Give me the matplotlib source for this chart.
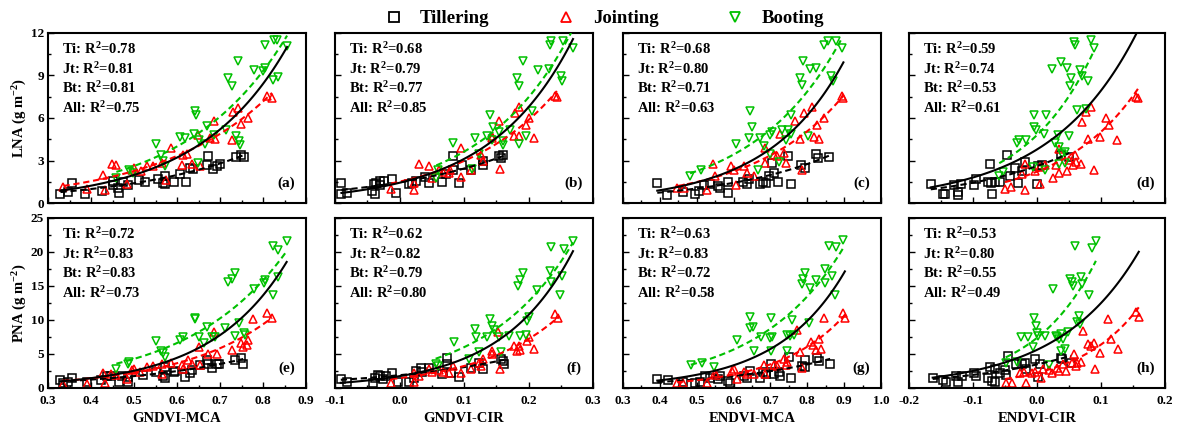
import numpy as np
import matplotlib

matplotlib.use("Agg")
import matplotlib.pyplot as plt
from matplotlib.lines import Line2D
from matplotlib.ticker import AutoMinorLocator

plt.rcParams["font.family"] = ["Liberation Serif", "DejaVu Serif"]
plt.rcParams["font.weight"] = "bold"
plt.rcParams["axes.labelweight"] = "bold"
plt.rcParams["axes.unicode_minus"] = False
plt.rcParams["mathtext.fontset"] = "custom"
plt.rcParams["mathtext.rm"] = "Liberation Serif:bold"
plt.rcParams["mathtext.it"] = "Liberation Serif:bold:italic"
plt.rcParams["mathtext.bf"] = "Liberation Serif:bold"

# ---- data: (vegetation index, nitrogen) pairs per panel/stage ----
# (a) LNA vs GNDVI-MCA
a_ti = [(0.329, 0.64), (0.346, 0.75), (0.356, 1.41), (0.387, 0.66), (0.425, 0.82), (0.450, 1.53),
        (0.452, 1.29), (0.462, 1.06), (0.464, 0.71), (0.475, 1.46), (0.485, 1.29), (0.512, 1.65),
        (0.525, 1.46), (0.556, 1.69), (0.567, 1.41), (0.571, 1.88), (0.573, 1.34), (0.592, 1.46),
        (0.608, 2.07), (0.622, 1.46), (0.631, 2.47), (0.638, 2.40), (0.669, 2.68), (0.673, 3.34),
        (0.683, 2.40), (0.692, 2.59), (0.700, 2.75), (0.738, 3.25), (0.748, 3.41), (0.756, 3.25)]
a_jt = [(0.336, 1.13), (0.390, 0.99), (0.428, 2.00), (0.433, 0.89), (0.448, 2.78), (0.458, 2.66),
        (0.483, 1.34), (0.495, 2.31), (0.500, 2.47), (0.517, 2.24), (0.531, 2.59), (0.545, 2.59),
        (0.565, 2.82), (0.575, 1.65), (0.586, 3.88), (0.612, 2.71), (0.614, 3.41), (0.623, 3.48),
        (0.635, 2.78), (0.648, 4.82), (0.654, 2.59), (0.677, 4.59), (0.687, 5.76), (0.688, 4.52),
        (0.727, 4.47), (0.731, 6.40), (0.742, 6.71), (0.748, 5.60), (0.764, 6.00), (0.810, 7.53),
        (0.821, 7.41)]
a_bt = [(0.459, 1.76), (0.488, 2.31), (0.498, 2.12), (0.552, 4.19), (0.563, 3.41), (0.567, 2.94),
        (0.571, 2.59), (0.608, 4.66), (0.619, 4.59), (0.640, 4.89), (0.642, 6.47), (0.644, 6.24),
        (0.648, 2.82), (0.650, 4.47), (0.664, 4.19), (0.669, 5.41), (0.685, 4.82), (0.715, 5.18),
        (0.719, 8.82), (0.729, 8.24), (0.738, 4.71), (0.741, 10.0), (0.744, 4.35), (0.746, 4.12),
        (0.779, 9.41), (0.800, 9.29), (0.804, 9.53), (0.805, 11.18), (0.823, 8.71), (0.825, 11.53),
        (0.833, 11.53), (0.836, 8.89), (0.856, 11.06)]

# (b) LNA vs GNDVI-CIR
b_ti = [(-0.090, 1.41), (-0.090, 0.64), (-0.082, 0.71), (-0.043, 0.82), (-0.039, 1.36), (-0.038, 0.64),
        (-0.036, 1.41), (-0.031, 1.29), (-0.030, 1.53), (-0.024, 1.53), (-0.012, 1.72), (-0.006, 0.71),
        (0.014, 1.36), (0.019, 1.41), (0.025, 1.53), (0.039, 1.84), (0.045, 1.41), (0.066, 1.46),
        (0.072, 2.07), (0.083, 3.34), (0.083, 2.35), (0.092, 1.41), (0.097, 2.71), (0.111, 2.35),
        (0.129, 2.71), (0.130, 2.94), (0.155, 3.29), (0.157, 3.18), (0.161, 3.41)]
b_jt = [(-0.013, 0.99), (0.022, 1.41), (0.022, 0.94), (0.030, 2.78), (0.046, 2.64), (0.051, 1.76),
        (0.061, 2.35), (0.068, 2.16), (0.077, 2.12), (0.078, 2.31), (0.096, 3.88), (0.096, 1.81),
        (0.111, 2.35), (0.127, 3.41), (0.130, 2.94), (0.143, 4.71), (0.144, 4.59), (0.155, 5.76),
        (0.156, 2.40), (0.177, 4.71), (0.179, 6.35), (0.186, 6.78), (0.186, 4.71), (0.196, 5.53),
        (0.201, 6.00), (0.208, 4.59), (0.241, 7.53), (0.244, 7.46)]
b_bt = [(0.057, 1.76), (0.059, 2.31), (0.083, 4.24), (0.113, 2.40), (0.117, 4.59), (0.123, 3.48),
        (0.136, 4.75), (0.140, 6.24), (0.143, 4.47), (0.145, 5.36), (0.155, 4.99), (0.160, 4.35),
        (0.161, 4.12), (0.171, 5.18), (0.182, 8.82), (0.186, 8.24), (0.186, 4.19), (0.191, 10.0),
        (0.196, 4.71), (0.205, 6.47), (0.214, 9.41), (0.232, 9.46), (0.233, 11.18), (0.235, 11.41),
        (0.250, 8.94), (0.252, 8.59), (0.254, 11.41), (0.269, 10.94)]

# (c) LNA vs ENDVI-MCA
c_ti = [(0.393, 1.41), (0.420, 0.59), (0.462, 0.75), (0.494, 0.64), (0.506, 0.82), (0.520, 1.29),
        (0.536, 1.36), (0.559, 1.22), (0.562, 1.06), (0.584, 0.71), (0.586, 1.46), (0.625, 1.46),
        (0.636, 1.34), (0.643, 1.69), (0.671, 1.36), (0.680, 1.46), (0.689, 1.41), (0.695, 1.93),
        (0.705, 2.82), (0.711, 2.12), (0.720, 1.46), (0.747, 3.34), (0.755, 1.36), (0.784, 2.71),
        (0.793, 2.47), (0.825, 3.48), (0.829, 3.18), (0.859, 3.25)]
c_jt = [(0.447, 1.06), (0.465, 1.06), (0.527, 0.89), (0.545, 2.75), (0.550, 1.88), (0.593, 2.64),
        (0.600, 2.31), (0.607, 1.29), (0.629, 2.64), (0.636, 2.12), (0.656, 1.88), (0.684, 2.82),
        (0.686, 3.88), (0.709, 3.41), (0.718, 3.34), (0.727, 4.87), (0.738, 3.53), (0.741, 2.82),
        (0.768, 5.76), (0.780, 4.52), (0.786, 2.35), (0.791, 6.35), (0.814, 6.78), (0.818, 4.66),
        (0.827, 5.53), (0.832, 4.52), (0.844, 6.00), (0.895, 7.53), (0.898, 7.41)]
c_bt = [(0.482, 1.88), (0.511, 2.31), (0.607, 4.19), (0.641, 4.59), (0.644, 6.47), (0.650, 5.36),
        (0.665, 2.35), (0.671, 4.59), (0.682, 4.00), (0.698, 3.48), (0.700, 4.82), (0.705, 4.99),
        (0.723, 2.87), (0.732, 5.18), (0.741, 4.47), (0.747, 5.18), (0.756, 4.89), (0.756, 6.24),
        (0.780, 8.82), (0.786, 8.35), (0.789, 10.0), (0.802, 4.71), (0.807, 9.46), (0.823, 9.53),
        (0.844, 11.18), (0.855, 11.41), (0.864, 8.94), (0.871, 8.64), (0.877, 11.41), (0.895, 10.94)]

# (d) LNA vs ENDVI-CIR
d_ti = [(-0.166, 1.37), (-0.147, 0.66), (-0.144, 0.61), (-0.129, 1.30), (-0.124, 0.78), (-0.123, 0.54),
        (-0.119, 1.37), (-0.098, 1.25), (-0.096, 1.72), (-0.076, 1.49), (-0.074, 2.78), (-0.072, 1.42),
        (-0.071, 0.66), (-0.066, 1.49), (-0.058, 1.49), (-0.047, 3.37), (-0.042, 1.89), (-0.035, 2.48),
        (-0.029, 1.42), (-0.023, 2.24), (-0.019, 2.90), (0.000, 1.32), (0.002, 2.59), (0.008, 2.67),
        (0.038, 3.42), (0.050, 3.25)]
d_jt = [(-0.050, 1.01), (-0.041, 1.13), (-0.018, 0.90), (-0.019, 2.74), (-0.024, 2.03), (-0.003, 2.26),
        (0.005, 1.37), (0.005, 2.55), (0.013, 2.67), (0.025, 1.79), (0.029, 2.71), (0.034, 2.12),
        (0.034, 3.84), (0.047, 2.26), (0.050, 3.07), (0.056, 2.67), (0.059, 3.37), (0.061, 2.90),
        (0.068, 2.74), (0.071, 5.73), (0.076, 6.44), (0.079, 4.55), (0.084, 6.75), (0.089, 2.36),
        (0.098, 4.67), (0.108, 5.97), (0.113, 5.50), (0.125, 4.48), (0.154, 7.50), (0.158, 7.38)]
d_bt = [(-0.059, 1.89), (-0.053, 2.19), (-0.032, 4.20), (-0.028, 4.43), (-0.017, 4.48), (-0.005, 6.20),
        (-0.004, 5.38), (-0.002, 5.14), (-0.007, 2.55), (0.011, 4.86), (0.014, 6.20), (0.013, 2.31),
        (0.028, 4.20), (0.033, 4.79), (0.035, 3.96), (0.039, 3.49), (0.044, 3.61), (0.034, 2.74),
        (0.050, 4.72), (0.044, 2.83), (0.023, 9.43), (0.037, 9.98), (0.047, 9.50), (0.053, 8.80),
        (0.052, 8.25), (0.067, 9.39), (0.070, 8.96), (0.079, 8.63), (0.058, 11.39), (0.059, 11.16),
        (0.084, 11.51), (0.089, 10.92), (0.063, 6.56), (0.076, 6.67)]

# (e) PNA vs GNDVI-MCA
e_ti = [(0.328, 1.23), (0.336, 0.74), (0.346, 0.89), (0.356, 1.53), (0.390, 0.89), (0.423, 1.13),
        (0.438, 1.72), (0.446, 1.72), (0.464, 0.89), (0.473, 1.72), (0.485, 0.89), (0.487, 1.62),
        (0.521, 1.87), (0.552, 2.36), (0.568, 1.72), (0.572, 1.53), (0.573, 3.10), (0.592, 2.36),
        (0.596, 2.51), (0.619, 1.62), (0.631, 2.21), (0.635, 2.61), (0.654, 3.35), (0.669, 4.18),
        (0.673, 3.59), (0.682, 3.00), (0.692, 3.59), (0.698, 3.49), (0.736, 4.08), (0.748, 4.43),
        (0.754, 3.59)]
e_jt = [(0.336, 0.54), (0.390, 0.64), (0.428, 2.21), (0.433, 0.74), (0.446, 2.12), (0.458, 1.87),
        (0.483, 1.38), (0.495, 2.61), (0.500, 2.85), (0.515, 2.36), (0.531, 3.10), (0.544, 3.20),
        (0.565, 3.59), (0.565, 2.12), (0.585, 3.69), (0.612, 3.35), (0.615, 2.85), (0.625, 4.18),
        (0.635, 3.59), (0.650, 6.05), (0.654, 3.35), (0.673, 5.07), (0.687, 8.27), (0.692, 5.07),
        (0.727, 5.56), (0.750, 6.55), (0.754, 6.05), (0.762, 6.30), (0.765, 7.04), (0.777, 10.09),
        (0.810, 10.97), (0.821, 10.24)]
e_bt = [(0.459, 2.85), (0.487, 3.59), (0.488, 3.84), (0.552, 6.94), (0.563, 5.46), (0.567, 5.17),
        (0.572, 4.58), (0.608, 7.04), (0.615, 7.43), (0.641, 10.24), (0.642, 10.09), (0.650, 7.53),
        (0.662, 6.64), (0.669, 9.01), (0.682, 7.43), (0.688, 7.43), (0.712, 8.76), (0.718, 15.65),
        (0.727, 15.99), (0.736, 16.88), (0.736, 7.63), (0.744, 9.60), (0.756, 8.02), (0.758, 7.78),
        (0.779, 14.52), (0.802, 15.50), (0.805, 15.90), (0.823, 20.82), (0.823, 13.68), (0.835, 20.32),
        (0.836, 16.39), (0.855, 21.56)]

# (f) PNA vs GNDVI-CIR
f_ti = [(-0.091, 1.34), (-0.082, 0.85), (-0.041, 0.75), (-0.038, 1.49), (-0.034, 1.84), (-0.030, 1.74),
        (-0.025, 1.34), (-0.021, 1.74), (-0.011, 2.14), (-0.003, 0.85), (0.015, 0.85), (0.022, 1.49),
        (0.026, 2.49), (0.034, 2.99), (0.035, 2.34), (0.046, 2.99), (0.066, 1.99), (0.074, 3.48),
        (0.074, 4.48), (0.080, 2.24), (0.092, 1.64), (0.111, 2.99), (0.129, 2.84), (0.124, 3.73),
        (0.157, 4.23), (0.161, 3.98), (0.162, 3.48)]
f_jt = [(-0.013, 0.75), (0.022, 2.24), (0.022, 0.85), (0.030, 1.74), (0.046, 2.74), (0.051, 2.34),
        (0.061, 2.64), (0.068, 2.34), (0.077, 2.24), (0.083, 3.23), (0.096, 2.14), (0.111, 2.74),
        (0.123, 3.73), (0.127, 3.23), (0.130, 4.23), (0.143, 4.98), (0.144, 5.47), (0.153, 8.21),
        (0.156, 2.74), (0.177, 6.22), (0.182, 5.47), (0.186, 6.22), (0.187, 5.62), (0.197, 6.97),
        (0.201, 7.46), (0.208, 5.72), (0.241, 10.95), (0.246, 10.30)]
f_bt = [(0.056, 3.48), (0.059, 3.23), (0.084, 6.82), (0.108, 4.33), (0.117, 8.61), (0.119, 7.46),
        (0.123, 5.32), (0.135, 7.46), (0.140, 10.10), (0.143, 9.10), (0.146, 8.46), (0.155, 7.46),
        (0.158, 5.22), (0.169, 7.71), (0.187, 7.61), (0.183, 15.07), (0.187, 15.92), (0.191, 16.92),
        (0.196, 7.81), (0.213, 14.43), (0.234, 17.26), (0.235, 20.75), (0.235, 15.57), (0.249, 13.68),
        (0.252, 16.42), (0.255, 20.40), (0.269, 21.64), (0.197, 9.80), (0.200, 10.45)]

# (g) PNA vs ENDVI-MCA
g_ti = [(0.393, 1.39), (0.423, 1.19), (0.464, 0.90), (0.495, 0.80), (0.509, 0.90), (0.523, 1.79),
        (0.536, 1.54), (0.559, 1.29), (0.562, 1.79), (0.586, 1.04), (0.591, 0.80), (0.627, 1.79),
        (0.636, 1.54), (0.645, 2.54), (0.673, 1.54), (0.680, 2.39), (0.689, 2.04), (0.702, 3.53),
        (0.711, 2.04), (0.723, 2.39), (0.725, 1.79), (0.750, 4.53), (0.756, 1.54), (0.786, 3.28),
        (0.793, 4.18), (0.795, 3.03), (0.827, 4.38), (0.832, 4.03), (0.862, 3.53)]
g_jt = [(0.447, 0.80), (0.464, 0.80), (0.529, 0.80), (0.550, 2.19), (0.553, 1.89), (0.595, 2.54),
        (0.602, 2.79), (0.609, 1.29), (0.629, 2.29), (0.636, 2.04), (0.656, 2.04), (0.682, 3.38),
        (0.686, 2.04), (0.711, 3.38), (0.718, 3.28), (0.736, 4.28), (0.741, 3.38), (0.745, 3.78),
        (0.771, 8.51), (0.780, 5.27), (0.786, 2.89), (0.809, 6.77), (0.816, 6.27), (0.823, 5.52),
        (0.832, 7.26), (0.836, 5.77), (0.844, 10.25), (0.898, 11.00), (0.902, 10.25)]
g_bt = [(0.484, 3.38), (0.514, 3.68), (0.547, 3.03), (0.609, 7.01), (0.644, 8.76), (0.644, 10.50),
        (0.653, 9.00), (0.656, 5.37), (0.675, 7.51), (0.700, 7.36), (0.702, 5.37), (0.705, 7.51),
        (0.702, 10.25), (0.744, 7.76), (0.745, 5.37), (0.753, 7.66), (0.759, 10.00), (0.765, 7.76),
        (0.786, 15.22), (0.789, 15.97), (0.793, 16.97), (0.807, 14.73), (0.805, 9.50), (0.825, 15.82),
        (0.847, 17.46), (0.847, 15.47), (0.859, 20.95), (0.868, 16.47), (0.877, 20.70), (0.875, 13.73),
        (0.898, 21.79)]

# (h) PNA vs ENDVI-CIR
h_ti = [(-0.163, 1.49), (-0.147, 1.24), (-0.142, 0.84), (-0.126, 1.73), (-0.123, 0.84), (-0.117, 1.83),
        (-0.098, 2.13), (-0.095, 1.83), (-0.076, 1.49), (-0.074, 3.12), (-0.070, 0.99), (-0.066, 0.84),
        (-0.065, 2.72), (-0.058, 2.23), (-0.050, 2.62), (-0.049, 1.98), (-0.045, 4.70), (-0.033, 3.47),
        (-0.024, 3.47), (-0.018, 3.61), (-0.017, 2.72), (-0.003, 4.21), (0.002, 1.63), (0.005, 3.47),
        (0.038, 4.46), (0.039, 4.21), (0.053, 3.61)]
h_jt = [(-0.049, 0.74), (-0.039, 0.74), (-0.026, 2.23), (-0.021, 2.33), (-0.017, 0.74), (-0.008, 2.13),
        (-0.003, 2.33), (0.007, 1.49), (0.009, 2.72), (0.019, 2.62), (0.024, 2.23), (0.032, 2.97),
        (0.034, 2.48), (0.041, 3.47), (0.045, 2.48), (0.054, 3.71), (0.058, 4.95), (0.061, 3.22),
        (0.063, 3.71), (0.068, 3.81), (0.072, 8.42), (0.079, 6.44), (0.084, 6.19), (0.089, 6.58),
        (0.091, 2.82), (0.098, 5.20), (0.111, 10.15), (0.116, 7.18), (0.126, 5.69), (0.155, 11.14),
        (0.159, 10.40)]
h_bt = [(-0.049, 3.71), (-0.032, 3.81), (-0.025, 7.57), (-0.014, 7.57), (-0.007, 6.09), (-0.004, 10.25),
        (-0.002, 9.16), (0.000, 8.07), (0.002, 7.67), (0.013, 7.67), (0.018, 3.32), (0.025, 14.60),
        (0.029, 7.67), (0.032, 7.57), (0.035, 7.18), (0.038, 7.92), (0.037, 5.45), (0.041, 7.18),
        (0.044, 5.69), (0.049, 8.17), (0.052, 16.09), (0.054, 15.59), (0.056, 15.00), (0.059, 20.94),
        (0.063, 9.75), (0.067, 9.41), (0.068, 16.34), (0.071, 15.35), (0.081, 13.71), (0.086, 20.54),
        (0.092, 21.63), (0.065, 10.54)]

# R2 values printed in each panel: Ti, Jt, Bt, All
r2_top = [["0.78", "0.81", "0.81", "0.75"], ["0.68", "0.79", "0.77", "0.85"],
          ["0.68", "0.80", "0.71", "0.63"], ["0.59", "0.74", "0.53", "0.61"]]
r2_bottom = [["0.72", "0.83", "0.83", "0.73"], ["0.62", "0.82", "0.79", "0.80"],
             ["0.63", "0.83", "0.72", "0.58"], ["0.53", "0.80", "0.55", "0.49"]]

vi_names = ["GNDVI-MCA", "GNDVI-CIR", "ENDVI-MCA", "ENDVI-CIR"]
x_ticks = [[0.3, 0.4, 0.5, 0.6, 0.7, 0.8, 0.9],
           [-0.1, 0.0, 0.1, 0.2, 0.3],
           [0.3, 0.4, 0.5, 0.6, 0.7, 0.8, 0.9, 1.0],
           [-0.2, -0.1, 0.0, 0.1, 0.2]]
lna_ticks = [0, 3, 6, 9, 12]
pna_ticks = [0, 5, 10, 15, 20, 25]
stage_labels = ["Tillering", "Jointing", "Booting"]
stage_short = ["Ti", "Jt", "Bt"]

top_sets = [(a_ti, a_jt, a_bt), (b_ti, b_jt, b_bt), (c_ti, c_jt, c_bt), (d_ti, d_jt, d_bt)]
bottom_sets = [(e_ti, e_jt, e_bt), (f_ti, f_jt, f_bt), (g_ti, g_jt, g_bt), (h_ti, h_jt, h_bt)]

COLORS = ["black", "#ff0000", "#00c000"]
MARKERS = ["s", "^", "v"]


def exp_fit(ax, pts, color, ls):
    # exponential trend y = a*exp(b*x), fitted in log space
    x = np.array([p[0] for p in pts])
    y = np.array([p[1] for p in pts])
    b, ln_a = np.polyfit(x, np.log(y), 1, w=np.sqrt(y))
    xs = np.linspace(x.min(), x.max(), 100)
    ax.plot(xs, np.exp(ln_a + b * xs), color=color, ls=ls, lw=1.5, zorder=3)


def draw_panel(ax, sets, r2, tag, yticks):
    for pts, col, mk in zip(sets, COLORS, MARKERS):
        ax.plot([p[0] for p in pts], [p[1] for p in pts], ls="none", marker=mk,
                mfc="none", mec=col, ms=5.5, mew=1.1, zorder=2)
    for pts, col in zip(sets, COLORS):
        exp_fit(ax, pts, col, (0, (3, 1.8)))
    exp_fit(ax, sets[0] + sets[1] + sets[2], "black", "-")

    lines = [f"{s}: R$^2$={v}" for s, v in zip(stage_short + ["All"], r2)]
    for i, txt in enumerate(lines):
        ax.text(0.055, 0.905 - i * 0.115, txt, transform=ax.transAxes,
                fontsize=10.5, va="center", ha="left")
    ax.text(0.925, 0.115, f"({tag})", transform=ax.transAxes, fontsize=11,
            va="center", ha="center")
    ax.set_ylim(yticks[0], yticks[-1])
    ax.set_yticks(yticks)
    ax.yaxis.set_minor_locator(AutoMinorLocator(2))
    ax.xaxis.set_minor_locator(AutoMinorLocator(2))
    ax.tick_params(which="both", direction="in", width=1, labelsize=9.5)
    ax.tick_params(axis="x", pad=5)
    ax.tick_params(axis="y", pad=3)
    ax.tick_params(which="major", length=4)
    ax.tick_params(which="minor", length=2.5)
    for sp in ax.spines.values():
        sp.set_linewidth(1.5)


fig = plt.figure(figsize=(11.8, 4.28), dpi=100)
lefts = [48, 335, 623, 909]
widths = [258, 258, 258, 256]
tags_top = "abcd"
tags_bottom = "efgh"

for col in range(4):
    xl = x_ticks[col]
    for row in range(2):
        bottom = 0.5257 if row == 0 else 0.0935
        ax = fig.add_axes([lefts[col] / 1180, bottom, widths[col] / 1180, 0.3972])
        if row == 0:
            draw_panel(ax, top_sets[col], r2_top[col], tags_top[col], lna_ticks)
        else:
            draw_panel(ax, bottom_sets[col], r2_bottom[col], tags_bottom[col], pna_ticks)
        ax.set_xlim(xl[0], xl[-1])
        ax.set_xticks(xl)
        if row == 1:
            ax.set_xticklabels([f"{t:.1f}" for t in xl], fontweight="bold")
            ax.set_xlabel(vi_names[col], fontsize=10.5, fontweight="bold", labelpad=4)
        else:
            ax.set_xticklabels([])
        if col == 0:
            ylab = "LNA (g m$^{-2}$)" if row == 0 else "PNA (g m$^{-2}$)"
            ax.set_ylabel(ylab, fontsize=10.5, fontweight="bold", labelpad=1)
            plt.setp(ax.get_yticklabels(), fontweight="bold")
        else:
            ax.set_yticklabels([])

handles = [Line2D([], [], ls="none", marker=m, mfc="none", mec=c, ms=6.5, mew=1.3)
           for m, c in zip(MARKERS, COLORS)]
fig.legend(handles, stage_labels, loc="center", bbox_to_anchor=(0.512, 0.956), ncol=3,
           frameon=False, handlelength=1.0, handletextpad=0.9, columnspacing=3.6,
           prop={"size": 13.5, "weight": "bold"})

fig.savefig("out.png", dpi=100)
